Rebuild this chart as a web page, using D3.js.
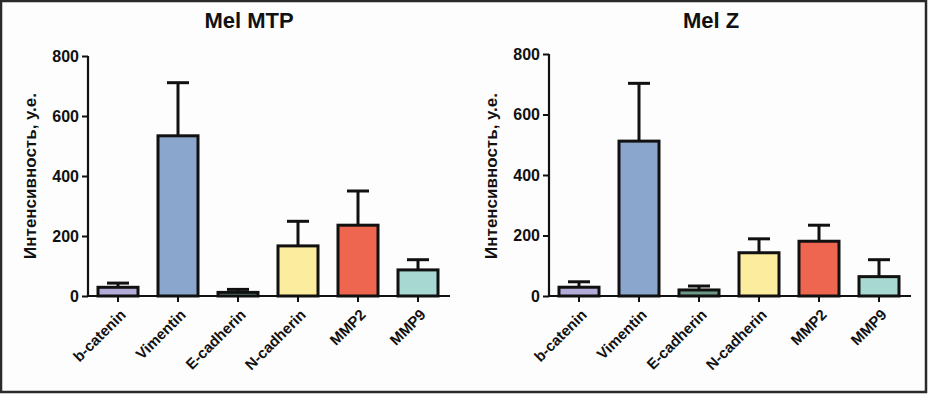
<!DOCTYPE html>
<html lang="ru">
<head>
<meta charset="UTF-8" />
<title>Mel MTP / Mel Z</title>
<style>
  html, body { margin: 0; padding: 0; background: #fdfdfd; }
  svg { display: block; font-family: Arial, "Liberation Sans", sans-serif; }
</style>
</head>
<body>
<svg id="chart" width="928" height="394"></svg>
<script src="https://d3js.org/d3.v7.min.js"></script>
<script>
// categories and values
var categories = ["b-catenin", "Vimentin", "E-cadherin", "N-cadherin", "MMP2", "MMP9"];
var barColors = ["#b4acd8", "#8ba6cd", "#6e9886", "#fcec9e", "#ef6650", "#a8d8d2"];

var mtpMean = [29, 534, 12, 167, 236, 87];
var mtpErr  = [43, 711, 22, 249, 350, 121];

var zMean = [29, 512, 20, 143, 181, 64];
var zErr  = [47, 703, 33, 189, 234, 120];

var yTicks = [0, 200, 400, 600, 800];
var yLabel = "Интенсивность, у.е.";

var svg = d3.select("#chart");

// frame round the whole figure
svg.append("rect")
   .attr("x", 1).attr("y", 1)
   .attr("width", 925).attr("height", 391)
   .attr("fill", "#fdfdfd")
   .attr("stroke", "#2a2a2a")
   .attr("stroke-width", 2.5);

function drawPanel(opts) {
  var g = svg.append("g");

  var x = d3.scaleBand()
            .domain(categories)
            .range([opts.left, opts.left + 360])
            .paddingInner(1 / 3)
            .paddingOuter(1 / 6);

  var y = d3.scaleLinear()
            .domain([0, 800])
            .range([296, opts.top]);

  var data = categories.map(function(c, i) {
    return { cat: c, mean: opts.mean[i], err: opts.err[i], color: barColors[i] };
  });

  // error bars (upper only), drawn under the bars
  g.selectAll(".stem").data(data).enter().append("line")
   .attr("x1", function(d) { return x(d.cat) + x.bandwidth() / 2; })
   .attr("x2", function(d) { return x(d.cat) + x.bandwidth() / 2; })
   .attr("y1", function(d) { return y(d.mean); })
   .attr("y2", function(d) { return y(d.err); })
   .attr("stroke", "#111").attr("stroke-width", 3);

  g.selectAll(".cap").data(data).enter().append("line")
   .attr("x1", function(d) { return x(d.cat) + x.bandwidth() / 2 - 11; })
   .attr("x2", function(d) { return x(d.cat) + x.bandwidth() / 2 + 11; })
   .attr("y1", function(d) { return y(d.err); })
   .attr("y2", function(d) { return y(d.err); })
   .attr("stroke", "#111").attr("stroke-width", 3);

  g.selectAll(".bar").data(data).enter().append("rect")
   .attr("x", function(d) { return x(d.cat); })
   .attr("y", function(d) { return y(d.mean); })
   .attr("width", x.bandwidth())
   .attr("height", function(d) { return y(0) - y(d.mean); })
   .attr("fill", function(d) { return d.color; })
   .attr("stroke", "#111")
   .attr("stroke-width", 3);

  // y axis
  var yAxis = d3.axisLeft(y).tickValues(yTicks).tickSize(6).tickPadding(3);
  var ya = g.append("g")
            .attr("transform", "translate(" + opts.left + ",0)")
            .call(yAxis);
  ya.select(".domain").attr("stroke", "#111").attr("stroke-width", 2.2)
    .attr("d", "M0," + y(800) + "V" + y(0));
  ya.selectAll(".tick line").attr("stroke", "#111").attr("stroke-width", 2);
  ya.selectAll(".tick text")
    .attr("fill", "#111")
    .style("font-size", "16px")
    .style("font-weight", "bold");

  // x axis with slanted labels
  var xAxis = d3.axisBottom(x).tickSize(6).tickSizeOuter(0);
  var xa = g.append("g")
            .attr("transform", "translate(0,296)")
            .call(xAxis);
  xa.select(".domain").attr("stroke", "#111").attr("stroke-width", 2.2)
    .attr("d", "M" + opts.left + ",0H" + (opts.left + 362));
  xa.selectAll(".tick line").attr("stroke", "#111").attr("stroke-width", 2);
  xa.selectAll(".tick text")
    .attr("x", 0).attr("y", 0).attr("dy", "0.35em")
    .attr("transform", "translate(5,16) rotate(-45)")
    .style("text-anchor", "end")
    .attr("fill", "#111")
    .style("font-size", "15px")
    .style("font-weight", "bold");

  // axis title
  g.append("text")
   .attr("transform", "translate(" + (opts.left - 52) + ",176) rotate(-90)")
   .attr("text-anchor", "middle")
   .attr("fill", "#111")
   .style("font-size", "17px")
   .style("font-weight", "bold")
   .text(yLabel);

  // panel title
  g.append("text")
   .attr("x", opts.titleX)
   .attr("y", 28)
   .attr("text-anchor", "middle")
   .attr("fill", "#111")
   .style("font-size", "22px")
   .style("font-weight", "bold")
   .text(opts.title);
}

drawPanel({ left: 88, top: 56, mean: mtpMean, err: mtpErr, title: "Mel MTP", titleX: 249 });
drawPanel({ left: 549, top: 54, mean: zMean, err: zErr, title: "Mel Z", titleX: 711 });
</script>
</body>
</html>
